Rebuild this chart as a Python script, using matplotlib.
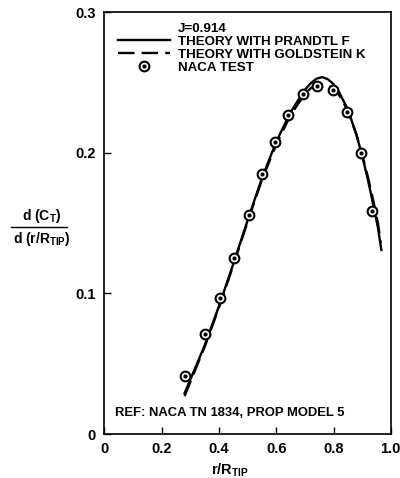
import matplotlib
matplotlib.use("Agg")
import matplotlib.pyplot as plt
from matplotlib.lines import Line2D
from matplotlib.legend_handler import HandlerLine2D

plt.rcParams["font.family"] = ["Liberation Sans", "DejaVu Sans"]
plt.rcParams["font.weight"] = "bold"
plt.rcParams["mathtext.fontset"] = "custom"
plt.rcParams["mathtext.rm"] = "Liberation Sans:bold"
plt.rcParams["mathtext.default"] = "rm"

# theory with Prandtl tip loss F
r_prandtl = [0.28, 0.35, 0.40, 0.45, 0.50, 0.55, 0.60, 0.65, 0.70, 0.72, 0.74,
             0.76, 0.78, 0.80, 0.82, 0.85, 0.88, 0.90, 0.92, 0.94, 0.955, 0.967]
ct_prandtl = [0.029, 0.063, 0.091, 0.121, 0.152, 0.182, 0.208, 0.229, 0.245, 0.2495, 0.2528,
              0.254, 0.2525, 0.249, 0.243, 0.231, 0.213, 0.198, 0.181, 0.162, 0.147, 0.131]

# theory with Goldstein K
r_gold = [0.28, 0.35, 0.40, 0.45, 0.50, 0.55, 0.60, 0.65, 0.70, 0.72, 0.74,
          0.76, 0.78, 0.80, 0.82, 0.85, 0.88, 0.90, 0.92, 0.94, 0.955, 0.965]
ct_gold = [0.027, 0.062, 0.090, 0.120, 0.151, 0.181, 0.206, 0.227, 0.242, 0.246, 0.2485,
           0.249, 0.248, 0.246, 0.241, 0.230, 0.213, 0.199, 0.183, 0.165, 0.150, 0.136]

# NACA test points
r_test = [0.281, 0.351, 0.403, 0.453, 0.504, 0.551, 0.595, 0.642, 0.692, 0.743,
          0.799, 0.848, 0.895, 0.936]
ct_test = [0.041, 0.071, 0.097, 0.125, 0.156, 0.185, 0.208, 0.227, 0.242, 0.248,
           0.245, 0.229, 0.200, 0.159]

xticks = [0, 0.2, 0.4, 0.6, 0.8, 1.0]
xticklabels = ["0", "0.2", "0.4", "0.6", "0.8", "1.0"]
yticks = [0, 0.1, 0.2, 0.3]
yticklabels = ["0", "0.1", "0.2", "0.3"]


class RightMarker(HandlerLine2D):
    # put the legend marker at the right end of the handle, like the original
    def get_xdata(self, legend, xdescent, ydescent, width, height, fontsize):
        xdata, _ = super().get_xdata(legend, xdescent, ydescent, width, height, fontsize)
        return xdata, [width - xdescent - 4]


fig = plt.figure(figsize=(4.0, 4.78), dpi=100)
ax = fig.add_axes([0.261, 0.092, 0.716, 0.882])

ax.plot(r_prandtl, ct_prandtl, color="black", lw=1.7)
ax.plot(r_gold, ct_gold, color="black", lw=1.7, dashes=(7, 3))
ax.plot(r_test, ct_test, ls="none", marker="o", ms=7, mfc="white", mec="black", mew=1.5)
ax.plot(r_test, ct_test, ls="none", marker="o", ms=2, color="black")

ax.set_xlim(0, 1.0)
ax.set_ylim(0, 0.3)
ax.set_xticks(xticks)
ax.set_xticklabels(xticklabels, fontsize=10.5, fontweight="bold")
ax.set_yticks(yticks)
ax.set_yticklabels(yticklabels, fontsize=10.5, fontweight="bold")
ax.tick_params(direction="in", length=5, width=1, pad=6)
for s in ax.spines.values():
    s.set_linewidth(1.2)

ax.set_xlabel(r"r/R$_{TIP}$", fontsize=10.5, fontweight="bold")
ax.xaxis.set_label_coords(0.44, -0.065)

# y label as a stacked fraction
fig.text(0.105, 0.530, r"d (C$_{T}$)", ha="center", va="bottom", fontsize=10, fontweight="bold")
fig.text(0.105, 0.518, r"d (r/R$_{TIP}$)", ha="center", va="top", fontsize=10, fontweight="bold")
fig.add_artist(Line2D([0.028, 0.168], [0.525, 0.525], color="black", lw=1))

ax.text(0.037, 0.05, "REF: NACA TN 1834, PROP MODEL 5", transform=ax.transAxes,
        fontsize=9.4, fontweight="bold", ha="left", va="center")

blank = Line2D([], [], color="none")
h_solid = Line2D([], [], color="black", lw=1.7)
h_dash = Line2D([], [], color="black", lw=1.7, dashes=(7, 3))
h_ring = Line2D([], [], ls="none", marker="o", ms=7, mfc="white", mec="black", mew=1.5)
h_dot = Line2D([], [], ls="none", marker="o", ms=2, color="black")
ax.legend([blank, h_solid, h_dash, (h_ring, h_dot)],
          ["J=0.914", "THEORY WITH PRANDTL F", "THEORY WITH GOLDSTEIN K", "NACA TEST"],
          handler_map={h_ring: RightMarker(), h_dot: RightMarker()},
          numpoints=1, loc="upper left", bbox_to_anchor=(0.018, 0.995), frameon=False,
          handlelength=3.95, handletextpad=0.55, labelspacing=0.05, borderaxespad=0.2,
          prop={"size": 9.6, "weight": "bold"})

plt.savefig("out.png", dpi=100)
plt.close()
